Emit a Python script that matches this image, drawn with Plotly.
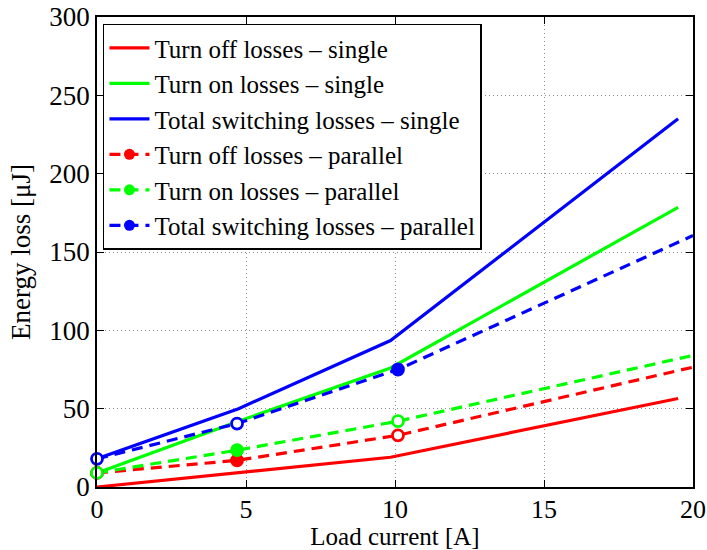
import plotly.graph_objects as go

# Measured switching energy versus load current
current_single = [0, 4.75, 9.85, 19.5]
off_single = [0, 9, 19, 56.5]
on_single = [9, 42, 76, 178.5]
total_single = [18, 50, 93.5, 235]

current_parallel = [0, 4.7, 10.1, 20]
off_parallel = [9, 17, 33, 76.5]
on_parallel = [9, 23.5, 42, 84]
total_parallel = [18, 40.5, 75, 160.5]

# which measured points are drawn as open (white-centred) circles
open_off = [False, False, True, False]
open_on = [True, False, True, False]
open_total = [True, True, False, False]

RED, GREEN, BLUE = "#ff0000", "#00ff00", "#0000ff"
FONT = "Liberation Serif"

fig = go.Figure()

singles = [
    ("Turn off losses – single", off_single, RED),
    ("Turn on losses – single", on_single, GREEN),
    ("Total switching losses – single", total_single, BLUE),
]
for name, ys, col in singles:
    fig.add_trace(go.Scatter(
        x=current_single, y=ys, name=name, mode="lines",
        line=dict(color=col, width=3.2),
    ))

parallels = [
    ("Turn off losses – parallel", off_parallel, RED, open_off),
    ("Turn on losses – parallel", on_parallel, GREEN, open_on),
    ("Total switching losses – parallel", total_parallel, BLUE, open_total),
]
for name, ys, col, opened in parallels:
    fig.add_trace(go.Scatter(
        x=current_parallel, y=ys, name=name, mode="lines+markers",
        line=dict(color=col, width=3.2, dash="11px,7px"),
        marker=dict(color=col, size=11, symbol="circle"),
        selectedpoints=[0, 1, 2],
        unselected=dict(marker=dict(opacity=0)),
    ))

# overlay the measured points, some of them open
for name, ys, col, opened in parallels:
    fig.add_trace(go.Scatter(
        x=current_parallel[:3], y=ys[:3], mode="markers", showlegend=False,
        marker=dict(
            color=["white" if o else col for o in opened[:3]],
            size=11,
            line=dict(color=col, width=2.8),
        ),
        cliponaxis=False,
        hoverinfo="skip",
    ))

axis_common = dict(
    showline=True, linecolor="black", linewidth=1.5, mirror="ticks",
    ticks="inside", ticklen=7, tickcolor="black", tickwidth=1,
    showgrid=True, gridcolor="#8c8c8c", griddash="1px,3px", gridwidth=1,
    zeroline=False, automargin=False,
    tickfont=dict(family=FONT, size=27, color="black"),
)

fig.update_xaxes(
    range=[0, 20], tickvals=[0, 5, 10, 15, 20],
    title=dict(text="Load current [A]", font=dict(family=FONT, size=25, color="black"),
               standoff=0),
    **axis_common,
)
fig.update_xaxes(tickfont=dict(size=26), ticklabelstandoff=-2)
fig.update_yaxes(
    range=[0, 300], tickvals=[0, 50, 100, 150, 200, 250, 300],
    title=dict(text="Energy loss [μJ]", font=dict(family=FONT, size=27, color="black"),
               standoff=11),
    **axis_common,
)

fig.update_layout(
    width=707, height=550,
    margin=dict(l=97, r=14, t=17, b=63),
    plot_bgcolor="white", paper_bgcolor="white",
    legend=dict(
        x=0.01, y=0.986, xanchor="left", yanchor="top",
        bgcolor="white", bordercolor="black", borderwidth=1.5,
        font=dict(family=FONT, size=25, color="black"),
        tracegroupgap=0, itemwidth=40,
    ),
)

fig.write_html("out.html")
